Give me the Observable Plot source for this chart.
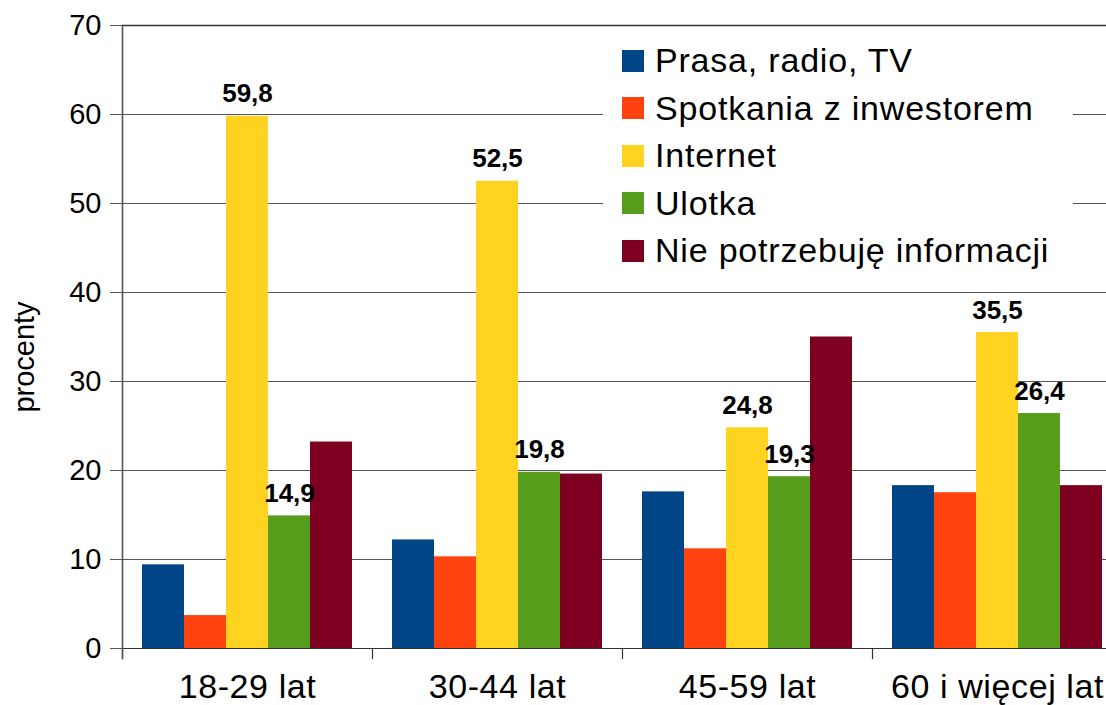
<!DOCTYPE html>
<html>
<head>
<meta charset="utf-8">
<script src="https://cdn.jsdelivr.net/npm/d3@7"></script>
<script src="https://cdn.jsdelivr.net/npm/@observablehq/plot@0.6"></script>
<style>
  html, body { margin: 0; padding: 0; background: #fff; overflow: hidden; }
  #wrap { position: relative; width: 1106px; height: 705px; font-family: "Liberation Sans", Arial, sans-serif; }
  #legend { position: absolute; left: 603px; top: 28px; width: 470px; height: 244px; background: #fff; }
  .row { position: absolute; left: 19px; height: 47px; display: flex; align-items: center; font-size: 34px; letter-spacing: 0.8px; color: #000; white-space: nowrap; }
  .sw { width: 22px; height: 22px; margin-right: 11px; flex: none; }
  g[aria-label="fx-axis tick label"] text { letter-spacing: 0.6px; }
</style>
</head>
<body>
<div id="wrap"><div id="legend"></div></div>
<script>
const groups = ["18-29 lat", "30-44 lat", "45-59 lat", "60 i więcej lat"];
const series = ["Prasa, radio, TV", "Spotkania z inwestorem", "Internet", "Ulotka", "Nie potrzebuję informacji"];
const colors = ["#004586", "#ff420e", "#ffd320", "#579d1c", "#7e0021"];
const prasa = [9.4, 12.2, 17.6, 18.3];
const spotkania = [3.7, 10.3, 11.2, 17.5];
const internet = [59.8, 52.5, 24.8, 35.5];
const ulotka = [14.9, 19.8, 19.3, 26.4];
const nie = [23.2, 19.6, 35.0, 18.3];
const labeledSeries = ["Internet", "Ulotka"];
const yTicks = [0, 10, 20, 30, 40, 50, 60, 70];
const yLabel = "procenty";

const valuesBySeries = [prasa, spotkania, internet, ulotka, nie];
const data = [];
groups.forEach((g, gi) => series.forEach((s, si) => data.push({group: g, series: s, value: valuesBySeries[si][gi]})));
const labels = data.filter(d => labeledSeries.includes(d.series));
const fmt = v => v.toFixed(1).replace(".", ",");

const font = "Liberation Sans, Arial, sans-serif";

const plot = Plot.plot({
  width: 1106,
  height: 705,
  marginLeft: 122,
  marginRight: -16,
  marginTop: 25,
  marginBottom: 57,
  style: {fontFamily: font, background: "transparent", color: "#000", overflow: "visible"},
  fx: {domain: groups, padding: 0, label: null},
  x: {domain: series, paddingInner: 0, paddingOuter: 0.476, axis: null},
  y: {domain: [0, 70], label: null},
  color: {domain: series, range: colors},
  marks: [
    Plot.gridY(yTicks, {stroke: "#555", strokeOpacity: 1, strokeWidth: 1}),
    Plot.ruleY([70], {stroke: "#333", strokeWidth: 1.5}),
    Plot.barY(data, {fx: "group", x: "series", y: "value", fill: "series"}),
    Plot.ruleY([0], {stroke: "#333", strokeWidth: 1.2}),
    Plot.frame({anchor: "left", insetTop: 623, insetBottom: -10, stroke: "#333", strokeWidth: 1.2}),
    Plot.frame({anchor: "left", facetAnchor: "left", insetBottom: -10, stroke: "#555", strokeWidth: 1.6}),
    Plot.text(labels, {fx: "group", x: "series", y: "value", text: d => fmt(d.value), lineAnchor: "bottom", dy: -14, fontSize: 26, fontWeight: "bold", fill: "#000"}),
    Plot.axisY({ticks: yTicks, tickSize: 12, tickPadding: 9, fontSize: 29, label: null, stroke: "#555"}),
    Plot.axisFx({anchor: "bottom", tickSize: 0, tickPadding: 25, fontSize: 34, label: null}),
    Plot.text([yLabel], {frameAnchor: "left", facetAnchor: "left", textAnchor: "middle", rotate: -90, dx: -98, dy: 20, fontSize: 29, fill: "#000"})
  ]
});
const wrap = document.getElementById("wrap");
wrap.insertBefore(plot, wrap.firstChild);

const legend = document.getElementById("legend");
series.forEach((s, i) => {
  const row = document.createElement("div");
  row.className = "row";
  row.style.top = (9 + i * 47.5) + "px";
  const sw = document.createElement("span");
  sw.className = "sw";
  sw.style.background = colors[i];
  const t = document.createElement("span");
  t.textContent = s;
  row.appendChild(sw); row.appendChild(t);
  legend.appendChild(row);
});
</script>
</body>
</html>
